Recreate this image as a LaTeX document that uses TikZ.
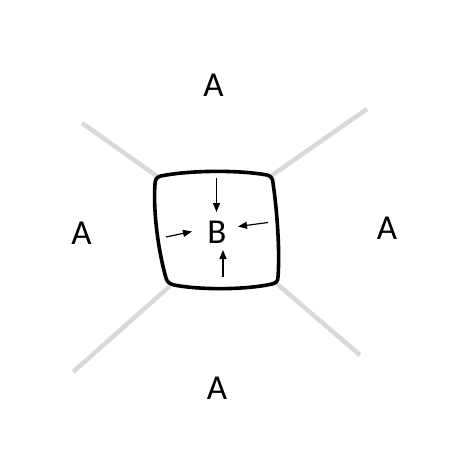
\documentclass[tikz,border=0pt]{standalone}
\usepackage{fontspec}
\setmainfont{Carlito}
\usetikzlibrary{arrows.meta}
\begin{document}
\begin{tikzpicture}[x=1pt,y=-1pt,
  lbl/.style={inner sep=0pt, font=\fontsize{35}{40}\selectfont},
  spoke/.style={draw={rgb,255:red,217;green,217;blue,217}, line width=4.5pt},
  cell/.style={draw=black, line width=3.6pt, line join=round},
  push/.style={draw=black, line width=1.2pt, -{Triangle[length=9pt,width=7pt]}}]
\useasboundingbox[fill=white] (0,0) rectangle (451,451);
% corner coordinates
\coordinate (tl) at (158,177);
\coordinate (tr) at (271,176);
\coordinate (br) at (276,283);
\coordinate (bl) at (170,286);
\coordinate (otl) at (82,123);
\coordinate (otr) at (367,109);
\coordinate (obr) at (360,355);
\coordinate (obl) at (73,372);
\draw[spoke] (tl) -- (otl);
\draw[spoke] (tr) -- (otr);
\draw[spoke] (br) -- (obr);
\draw[spoke] (bl) -- (obl);
% cell boundary
\draw[cell] (161,176)
  .. controls (190,170) and (240,170) .. (267,175)
  .. controls (271,176) and (273,179) .. (273,183)
  .. controls (277,210) and (280,250) .. (278,277)
  .. controls (278,281) and (276,283) .. (272,284)
  .. controls (245,290) and (200,290) .. (174,285)
  .. controls (170,284) and (167,282) .. (166,278)
  .. controls (158,250) and (153,210) .. (155,184)
  .. controls (155,179) and (157,177) .. (161,176) -- cycle;
% labels
\node[lbl] (b) at (217,232) {B};
\node[lbl] (at) at (213.5,85) {A};
\node[lbl] (al) at (81.5,233.5) {A};
\node[lbl] (ar) at (387,228.5) {A};
\node[lbl] (ab) at (217,388.5) {A};
% arrows
\coordinate (p1s) at (216.5,178);
\coordinate (p1e) at (216.5,212);
\coordinate (p2s) at (166,237);
\coordinate (p2e) at (192,231.5);
\coordinate (p3s) at (268,222.5);
\coordinate (p3e) at (238,226.5);
\coordinate (p4s) at (223,277);
\coordinate (p4e) at (223,250);
\draw[push] (p1s) -- (p1e);
\draw[push] (p2s) -- (p2e);
\draw[push] (p3s) -- (p3e);
\draw[push] (p4s) -- (p4e);
\end{tikzpicture}
\end{document}
